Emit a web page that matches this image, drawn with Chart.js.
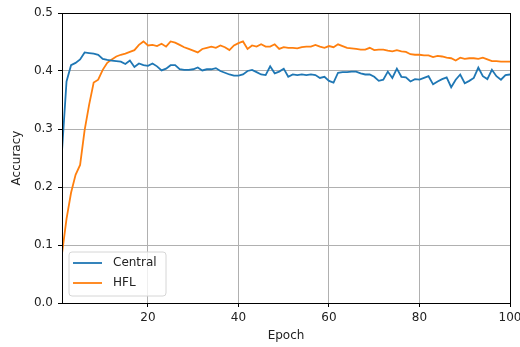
<!DOCTYPE html>
<html>
<head>
<meta charset="utf-8">
<script src="https://cdn.jsdelivr.net/npm/chart.js@4.4.1/dist/chart.umd.min.js"></script>
<style>
  html, body { margin: 0; padding: 0; background: #fff; }
  #wrap { width: 520px; height: 347px; position: relative; }
</style>
</head>
<body>
<div id="wrap"><canvas id="c" width="520" height="347"></canvas></div>
<script>
const epochs = [1,2,3,4,5,6,7,8,9,10,11,12,13,14,15,16,17,18,19,20,21,22,23,24,25,26,27,28,29,30,31,32,33,34,35,36,37,38,39,40,41,42,43,44,45,46,47,48,49,50,51,52,53,54,55,56,57,58,59,60,61,62,63,64,65,66,67,68,69,70,71,72,73,74,75,76,77,78,79,80,81,82,83,84,85,86,87,88,89,90,91,92,93,94,95,96,97,98,99,100];

const central = [0.262,0.382,0.410,0.414,0.420,0.432,0.431,0.430,0.428,0.421,
  0.419,0.418,0.417,0.416,0.412,0.418,0.407,0.413,0.410,0.409,
  0.413,0.408,0.401,0.404,0.410,0.410,0.403,0.402,0.402,0.403,
  0.406,0.401,0.403,0.403,0.405,0.400,0.397,0.394,0.392,0.392,
  0.394,0.400,0.402,0.398,0.394,0.393,0.408,0.396,0.399,0.404,
  0.390,0.394,0.393,0.394,0.393,0.394,0.393,0.388,0.390,0.383,
  0.380,0.397,0.398,0.398,0.399,0.399,0.396,0.394,0.394,0.390,
  0.383,0.385,0.399,0.388,0.404,0.390,0.389,0.382,0.386,0.385,
  0.388,0.391,0.377,0.382,0.386,0.389,0.372,0.385,0.394,0.379,
  0.383,0.388,0.406,0.391,0.386,0.402,0.391,0.385,0.393,0.394];

const hfl = [0.085,0.145,0.190,0.221,0.238,0.298,0.342,0.380,0.385,0.402,
  0.414,0.420,0.425,0.428,0.430,0.433,0.436,0.445,0.451,0.444,
  0.445,0.443,0.447,0.442,0.451,0.449,0.445,0.441,0.438,0.435,
  0.432,0.438,0.440,0.442,0.440,0.444,0.441,0.436,0.444,0.448,
  0.451,0.438,0.444,0.442,0.446,0.442,0.442,0.446,0.438,0.441,
  0.440,0.440,0.439,0.441,0.442,0.442,0.445,0.442,0.440,0.443,
  0.441,0.446,0.443,0.440,0.439,0.438,0.437,0.437,0.440,0.436,
  0.437,0.437,0.435,0.434,0.436,0.434,0.433,0.429,0.428,0.428,
  0.427,0.427,0.424,0.426,0.425,0.423,0.422,0.418,0.423,0.421,
  0.422,0.422,0.421,0.423,0.420,0.417,0.417,0.416,0.416,0.416];

const xTicks = [20, 40, 60, 80, 100];
const seriesLabels = ['Central', 'HFL'];
const seriesColors = ['#1f77b4', '#ff7f0e'];

const FONT = { family: 'DejaVu Sans', size: 12 };
const TXT = '#222';

const framePlugin = {
  id: 'frame',
  afterDatasetsDraw(chart) {
    const ctx = chart.ctx, a = chart.chartArea;
    ctx.save();
    ctx.strokeStyle = '#000';
    ctx.lineWidth = 1;
    ctx.strokeRect(Math.round(a.left) + 0.5, Math.round(a.top) + 0.5,
                   Math.round(a.right - a.left), Math.round(a.bottom - a.top));
    ctx.restore();
  }
};

const legendPlugin = {
  id: 'innerLegend',
  afterDraw(chart) {
    const ctx = chart.ctx, a = chart.chartArea;
    const x0 = a.left + 7, y0 = a.bottom - 51, w = 97, h = 44, r = 3;
    ctx.save();
    ctx.beginPath();
    ctx.moveTo(x0 + r, y0);
    ctx.lineTo(x0 + w - r, y0);
    ctx.arcTo(x0 + w, y0, x0 + w, y0 + r, r);
    ctx.lineTo(x0 + w, y0 + h - r);
    ctx.arcTo(x0 + w, y0 + h, x0 + w - r, y0 + h, r);
    ctx.lineTo(x0 + r, y0 + h);
    ctx.arcTo(x0, y0 + h, x0, y0 + h - r, r);
    ctx.lineTo(x0, y0 + r);
    ctx.arcTo(x0, y0, x0 + r, y0, r);
    ctx.closePath();
    ctx.fillStyle = 'rgba(255,255,255,0.8)';
    ctx.fill();
    ctx.strokeStyle = '#d6d6d6';
    ctx.lineWidth = 1;
    ctx.stroke();
    chart.data.datasets.forEach((ds, i) => {
      const ly = y0 + 11 + i * 20;
      ctx.beginPath();
      ctx.moveTo(x0 + 4, ly);
      ctx.lineTo(x0 + 33, ly);
      ctx.strokeStyle = ds.borderColor;
      ctx.lineWidth = 1.8;
      ctx.stroke();
      ctx.fillStyle = TXT;
      ctx.font = '12px "DejaVu Sans"';
      ctx.textBaseline = 'middle';
      ctx.textAlign = 'left';
      ctx.fillText(ds.label, x0 + 44, ly);
    });
    ctx.restore();
  }
};

new Chart(document.getElementById('c'), {
  type: 'line',
  data: {
    datasets: [
      { label: seriesLabels[0], data: epochs.map((e, i) => ({ x: e, y: central[i] })),
        borderColor: seriesColors[0], backgroundColor: seriesColors[0], borderWidth: 1.8,
        pointRadius: 0, tension: 0 },
      { label: seriesLabels[1], data: epochs.map((e, i) => ({ x: e, y: hfl[i] })),
        borderColor: seriesColors[1], backgroundColor: seriesColors[1], borderWidth: 1.8,
        pointRadius: 0, tension: 0 }
    ]
  },
  options: {
    responsive: false,
    animation: false,
    devicePixelRatio: 1,
    layout: { padding: { left: 0, right: 10, top: 13, bottom: 0 } },
    plugins: { legend: { display: false }, tooltip: { enabled: false } },
    scales: {
      x: {
        type: 'linear', min: 1, max: 100,
        afterBuildTicks: (s) => { s.ticks = xTicks.map(v => ({ value: v })); },
        afterFit: (s) => { s.height = 44; s.paddingLeft = 0; s.paddingRight = 0; },
        grid: { color: '#b0b0b0', lineWidth: 1, tickColor: '#000', tickLength: 4 },
        border: { color: '#000', width: 1 },
        ticks: { font: FONT, color: TXT, padding: 4, maxRotation: 0, autoSkip: false },
        title: { display: true, text: 'Epoch', font: FONT, color: TXT, padding: { top: 0, bottom: 4 } }
      },
      y: {
        type: 'linear', min: 0, max: 0.5,
        afterFit: (s) => { s.width = 62; s.paddingTop = 0; s.paddingBottom = 0; },
        grid: { color: '#b0b0b0', lineWidth: 1, tickColor: '#000', tickLength: 4 },
        border: { color: '#000', width: 1 },
        ticks: { stepSize: 0.1, font: FONT, color: TXT, padding: 5,
                 callback: (v) => Number(v).toFixed(1) },
        title: { display: true, text: 'Accuracy', font: FONT, color: TXT, padding: { top: 10, bottom: 0 } }
      }
    }
  },
  plugins: [framePlugin, legendPlugin]
});
</script>
</body>
</html>
